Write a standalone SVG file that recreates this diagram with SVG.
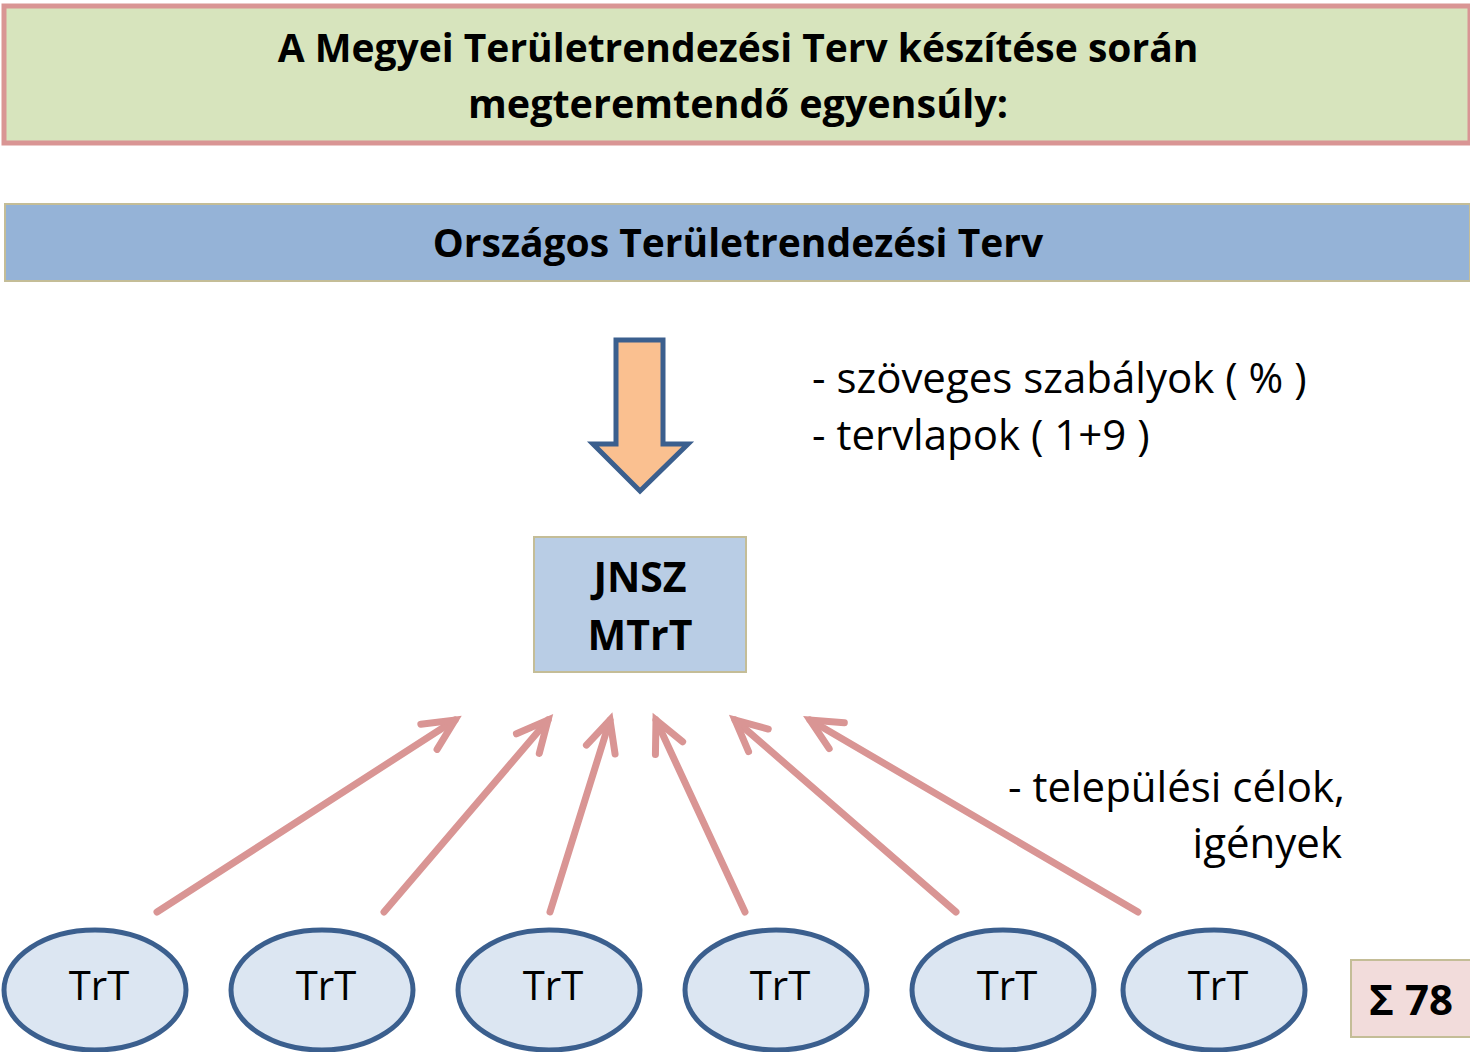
<svg xmlns="http://www.w3.org/2000/svg" width="1470" height="1052" viewBox="0 0 1470 1052">
<style>
text{font-family:"Open Sans","Liberation Sans",sans-serif;fill:#000}
.b{font-weight:bold}
.oval{fill:#dce6f2;stroke:#3b5f8e;stroke-width:5}
.ovt{font-size:40px;text-anchor:middle}
.conn{stroke:#d99594;stroke-width:7;stroke-linecap:round;fill:none;marker-end:url(#ah)}
</style>
<defs>
<marker id="ah" markerUnits="userSpaceOnUse" viewBox="-40 -20 50 40" markerWidth="50" markerHeight="40" refX="0" refY="0" orient="auto" overflow="visible">
<path d="M-31,-15 L0,0 L-31,15" fill="none" stroke="#d99594" stroke-width="7" stroke-linecap="round" stroke-linejoin="miter"/>
</marker>
</defs>
<g id="title">
<rect x="4" y="6" width="1466" height="137" fill="#d7e4bd" stroke="#d99594" stroke-width="5"/>
<text class="b" x="738" y="62" font-size="39" text-anchor="middle">A Megyei Területrendezési Terv készítése során</text>
<text class="b" x="738" y="118" font-size="39.5" text-anchor="middle">megteremtendő egyensúly:</text>
</g>
<g id="otrt">
<rect x="5" y="204" width="1465" height="77" fill="#95b3d7" stroke="#c4bd97" stroke-width="2"/>
<text class="b" x="738" y="257" font-size="39" text-anchor="middle">Országos Területrendezési Terv</text>
</g>
<g id="bigarrow">
<path d="M616,340 L663,340 L663,444 L688,444 L640,491 L593,444 L616,444 Z" fill="#fac090" stroke="#3b5f8e" stroke-width="5"/>
</g>
<g id="notes1">
<text x="812" y="393" font-size="42">- szöveges szabályok ( % )</text>
<text x="812" y="450" font-size="42">- tervlapok ( 1+9 )</text>
</g>
<g id="jnsz">
<rect x="534" y="537" width="212" height="135" fill="#b9cde5" stroke="#c4bd97" stroke-width="2"/>
<text class="b" x="640" y="592" font-size="41" text-anchor="middle">JNSZ</text>
<text class="b" x="640" y="650" font-size="41" text-anchor="middle">MTrT</text>
</g>
<g id="connectors">
<line class="conn" x1="157" y1="912" x2="455" y2="720"/>
<line class="conn" x1="384" y1="912" x2="548" y2="720"/>
<line class="conn" x1="550" y1="912" x2="610" y2="720"/>
<line class="conn" x1="745" y1="912" x2="656" y2="720"/>
<line class="conn" x1="956" y1="912" x2="735" y2="720"/>
<line class="conn" x1="1138" y1="912" x2="810" y2="720"/>
</g>
<g id="notes2">
<text x="1008" y="802" font-size="42">- települési célok,</text>
<text x="1342" y="858" font-size="42" text-anchor="end">igények</text>
</g>
<g id="trt1"><ellipse class="oval" cx="95" cy="990" rx="91" ry="60"/><text class="ovt" x="99" y="1000">TrT</text></g>
<g id="trt2"><ellipse class="oval" cx="322" cy="990" rx="91" ry="60"/><text class="ovt" x="326" y="1000">TrT</text></g>
<g id="trt3"><ellipse class="oval" cx="549" cy="990" rx="91" ry="60"/><text class="ovt" x="553" y="1000">TrT</text></g>
<g id="trt4"><ellipse class="oval" cx="776" cy="990" rx="91" ry="60"/><text class="ovt" x="780" y="1000">TrT</text></g>
<g id="trt5"><ellipse class="oval" cx="1003" cy="990" rx="91" ry="60"/><text class="ovt" x="1007" y="1000">TrT</text></g>
<g id="trt6"><ellipse class="oval" cx="1214" cy="990" rx="91" ry="60"/><text class="ovt" x="1218" y="1000">TrT</text></g>
<g id="sum">
<rect x="1351" y="960" width="120" height="77" fill="#f2dcdb" stroke="#c4bd97" stroke-width="2"/>
<text class="b" x="1411" y="1015" font-size="42" text-anchor="middle">Σ 78</text>
</g>
</svg>
